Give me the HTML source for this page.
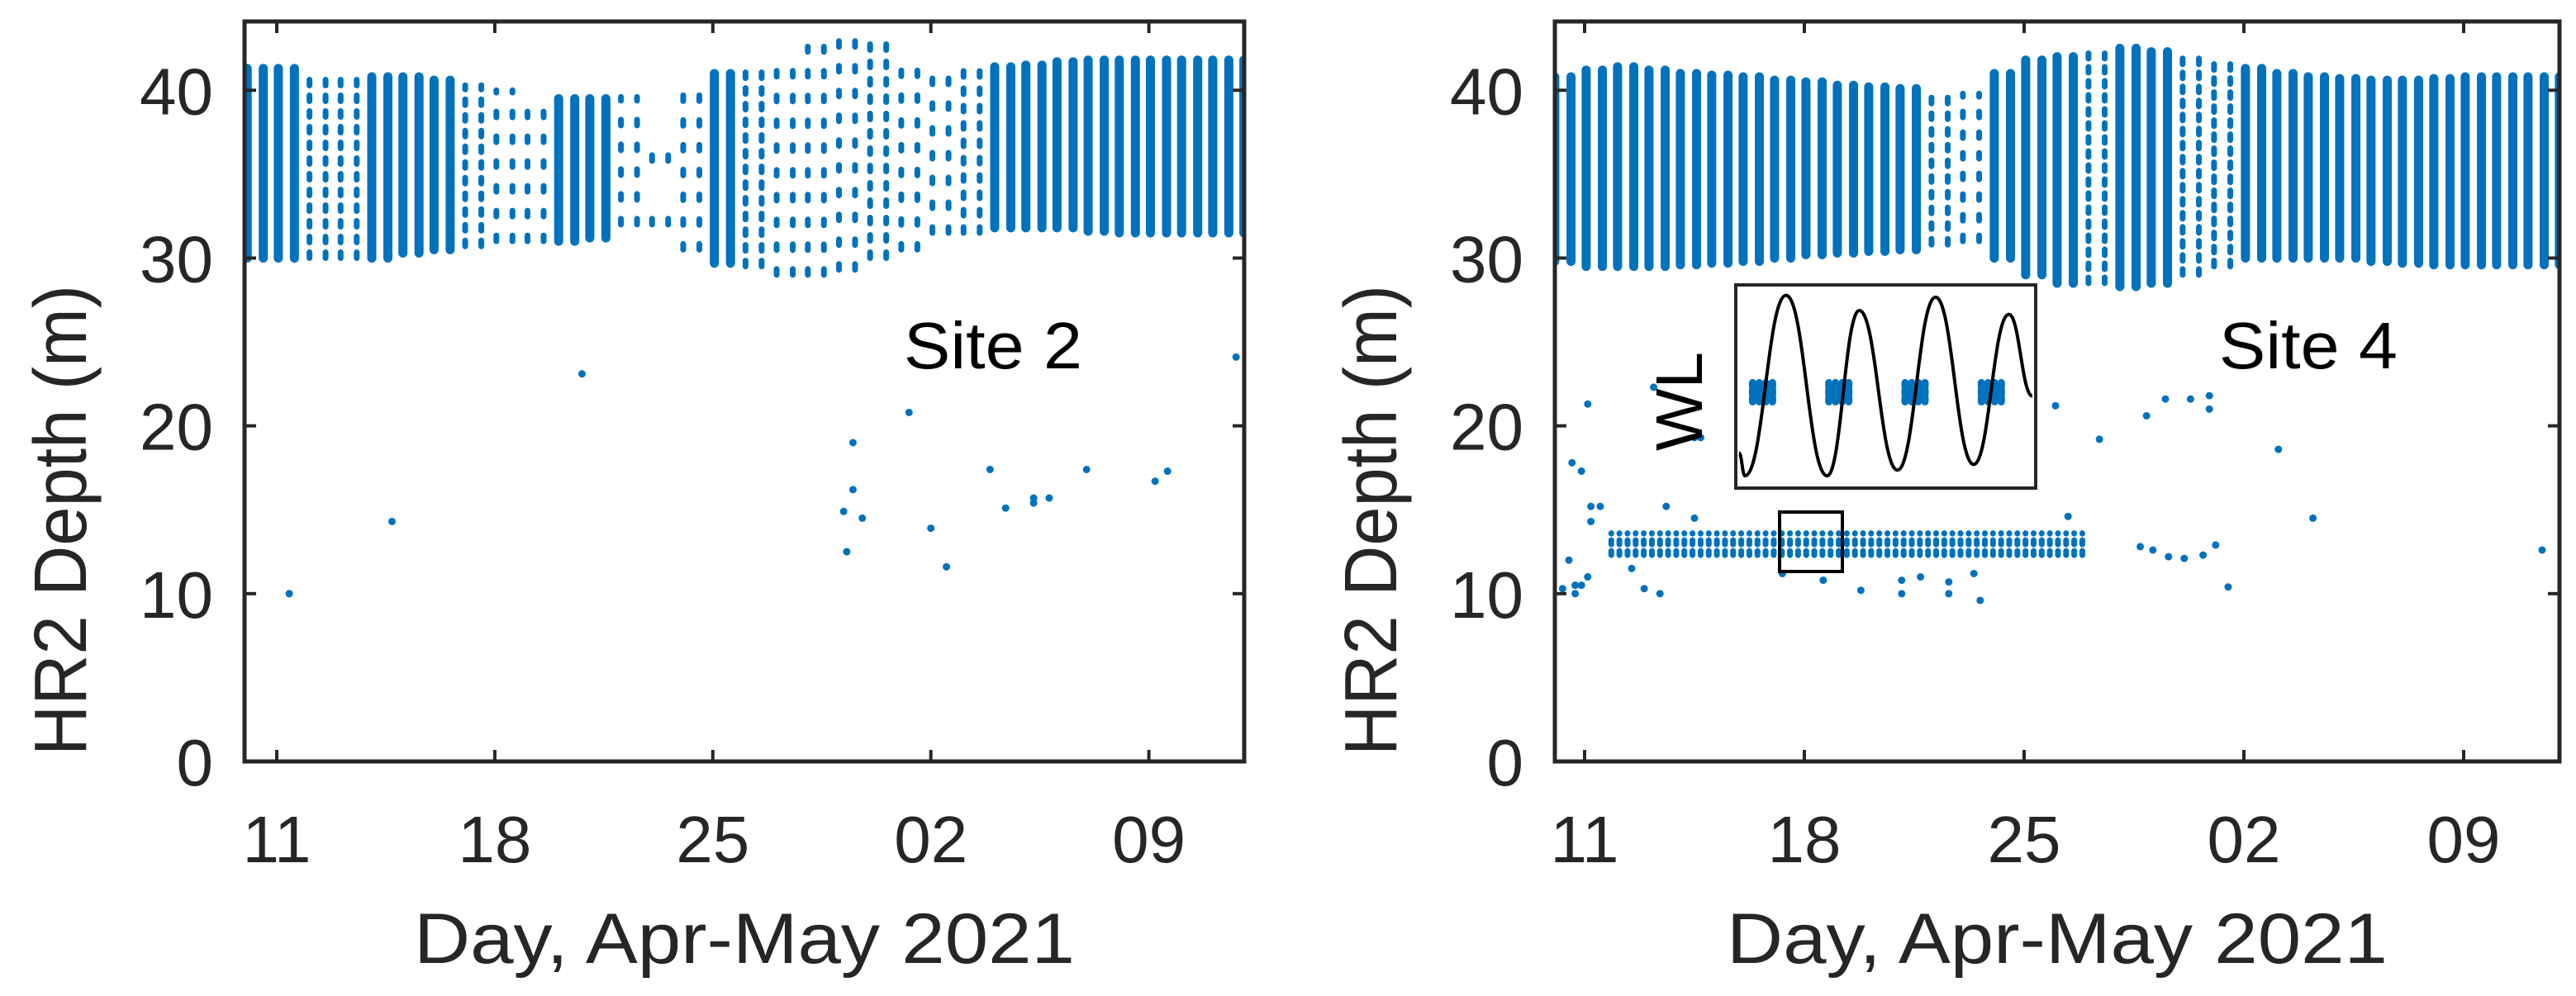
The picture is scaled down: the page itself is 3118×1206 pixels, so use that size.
<!DOCTYPE html>
<html><head><meta charset="utf-8"><style>
html,body{margin:0;padding:0;background:#fff}
svg{display:block;font-family:"Liberation Sans",sans-serif}
</style></head><body>
<svg id="fig" width="3118" height="1206" viewBox="0 0 3118 1206"></svg>
<script>
// ---- data (day index: 0 = Apr 11, 2021) ----
const xTickLabels = ["11","18","25","02","09"];
const xTickDays = [0,7,14,21,28];
const yTickValues = [0,10,20,30,40];
const envDays = [-1,0,1,2,3,4,5,6,7,8,9,10,11,12,13,14,15,16,17,18,19,20,21,22,23,24,25,26,27,28,29,30,31];
const leftMin = [30,30,30,30,30,30.3,30.5,30.7,31,31,31,31.2,32,32,30.5,29.7,29.5,29,29,29.3,30,30.5,31.5,31.5,31.8,31.8,31.8,31.6,31.5,31.5,31.5,31.5,31.5];
const leftMax = [41.3,41.3,41.2,41,40.8,40.8,40.6,40.3,40,39.7,39.5,39.5,39.6,38,40.8,41,41.3,42,42.6,43,42.8,42.2,41.5,41.4,41.4,41.5,41.7,41.8,41.8,41.8,41.8,41.8,41.8];
const leftDense = [1,1,0.6,0.6,1,1,1,0.6,0.3,0.3,1,1,0.3,0.1,0.3,1,0.6,0.3,0.3,0.3,0.5,0.3,0.3,0.5,1,1,1,1,1,1,1,1,1];
const rightMin = [29.8,29.5,29.5,29.5,29.6,29.7,29.8,30,30.2,30.3,30.4,30.5,30.8,31,30,29,28.5,28.5,28.3,28.5,29,29.5,30,30,30,30,29.8,29.7,29.6,29.6,29.6,29.6,29.6];
const rightMax = [40.8,41.2,41.4,41.2,41,40.9,40.8,40.6,40.5,40.3,40.2,40.1,40,39.8,41,41.8,42,42.2,42.5,42.3,42,41.7,41.3,41,40.8,40.7,40.6,40.6,40.7,40.8,40.8,40.8,40.8];
const rightDense = [1,1,1,1,1,1,1,1,1,1,1,1,0.6,0.4,1,1,1,0.7,1,1,0.7,0.7,1,1,1,1,1,1,1,1,1,1,1];
const leftOutDays = [0.4,3.7,9.8,18.3,18.2,18.5,18.5,18.8,20.3,21.0,21.5,22.9,23.4,24.3,24.3,24.8,26.0,28.2,28.6,30.8];
const leftOutVals = [10,14.3,23.1,12.5,14.9,19,16.2,14.5,20.8,13.9,11.6,17.4,15.1,15.4,15.7,15.7,17.4,16.7,17.3,24.1];
const rightOutDays = [-0.7,-0.3,-0.5,-0.4,-0.1,0.1,0.2,0.5,0.2,0.1,-0.1,-0.3,1.5,1.9,2.4,2.6,2.2,3.5,3.7,3.5,6.3,7.6,8.8,10.1,10.1,10.7,11.6,11.6,12.6,12.4,15.4,15.0,16.4,17.9,18.5,19.3,19.9,19.9,17.7,18.1,18.6,19.1,19.7,20.1,20.5,22.1,23.2,30.5];
const rightOutVals = [10.3,10.5,12,17.8,17.3,21.3,15.2,15.2,14.3,11,10.5,10,11.5,10.3,10,15.2,22.3,19.3,19.3,14.5,11.2,10.8,10.2,10,10.8,11,10.7,10,9.6,11.2,14.6,21.2,19.2,20.6,21.6,21.6,21.8,21,12.8,12.6,12.2,12.1,12.3,12.9,10.4,18.6,14.5,12.6];
const bandStart = 0.85, bandEnd = 15.9, bandLow = 12.3, bandHigh = 13.6;
const wlTimes = [0.0,0.02,0.16,0.30,0.41,0.54,0.67,0.80,0.92,1.0];
const wlVals  = [0.15,0.03,0.98,0.03,0.90,0.06,0.97,0.09,0.88,0.45];
const wlClusterTimes = [0.08,0.34,0.60,0.86];

const NS="http://www.w3.org/2000/svg";
const svg=document.getElementById('fig');
function mk(tag,attrs,parent){const e=document.createElementNS(NS,tag);for(const k in attrs)e.setAttribute(k,attrs[k]);(parent||svg).appendChild(e);return e;}
const BLUE="#0072BD", INK="#262626";

function panel(cfg){
  const g=mk('g',{});
  
  
  const xs=d=>cfg.x0+d*cfg.pxDay;
  const ys=v=>cfg.bottom-v*(cfg.bottom-cfg.top)/44.1;
  const clip=mk('clipPath',{id:cfg.name+'-clip'},g);
  mk('rect',{x:cfg.left,y:cfg.top,width:cfg.right-cfg.left,height:cfg.bottom-cfg.top},clip);
  const dg=mk('g',{'clip-path':'url(#'+cfg.name+'-clip)'},g);
  
  
  for(let i=0;i<envDays.length;i++){
    for(let k=0;k<2;k++){
      const d=envDays[i]+0.05+k*0.517;
      const dn=cfg.dense[i];
      const a={x1:xs(d),x2:xs(d),y1:ys(cfg.min[i]),y2:ys(cfg.max[i]),stroke:BLUE,'stroke-width':dn>=0.9?11:7,'stroke-linecap':'round'};
      if(dn<0.9){a['stroke-dasharray']='7 '+Math.round(7/dn);}
      const l=mk('line',a,dg);
      
      
    }
  }
  if(cfg.band){
    for(let d=bandStart; d<=bandEnd; d+=0.2587){
      const l=mk('line',{x1:xs(d),x2:xs(d),y1:ys(bandLow),y2:ys(bandHigh),stroke:BLUE,'stroke-width':7,'stroke-linecap':'round','stroke-dasharray':'5 8'},dg);
      
      
    }
  }
  for(let i=0;i<cfg.outD.length;i++){
    const c=mk('circle',{cx:xs(cfg.outD[i]),cy:ys(cfg.outV[i]),r:4.5,fill:BLUE},dg);
    
    
  }
  const box=mk('rect',{x:cfg.left,y:cfg.top,width:cfg.right-cfg.left,height:cfg.bottom-cfg.top,fill:'none',stroke:INK,'stroke-width':5},g);
  
  
  for(let i=0;i<xTickDays.length;i++){
    const x=xs(xTickDays[i]);
    mk('line',{x1:x,x2:x,y1:cfg.bottom,y2:cfg.bottom-14,stroke:INK,'stroke-width':4},g);
    mk('line',{x1:x,x2:x,y1:cfg.top,y2:cfg.top+14,stroke:INK,'stroke-width':4},g);
    const t=mk('text',{x:x,y:1044,'font-size':80,fill:INK,'text-anchor':'middle'},g);
    t.textContent=xTickLabels[i];
    
    
  }
  for(let i=0;i<yTickValues.length;i++){
    const y=ys(yTickValues[i]);
    mk('line',{x1:cfg.left,x2:cfg.left+14,y1:y,y2:y,stroke:INK,'stroke-width':4},g);
    mk('line',{x1:cfg.right,x2:cfg.right-14,y1:y,y2:y,stroke:INK,'stroke-width':4},g);
    const t=mk('text',{x:cfg.left-38,y:y+29,'font-size':80,fill:INK,'text-anchor':'end'},g);
    t.textContent=String(yTickValues[i]);
    
    
  }
  const xl=mk('text',{x:(cfg.left+cfg.right)/2,y:1166,'font-size':86,fill:INK,'text-anchor':'middle',textLength:800,lengthAdjust:'spacingAndGlyphs'},g);
  xl.textContent='Day, Apr-May 2021';
  
  
  const yl=mk('text',{x:0,y:0,'font-size':90,fill:INK,'text-anchor':'middle',textLength:570,lengthAdjust:'spacingAndGlyphs',transform:'translate('+cfg.ylx+',630) rotate(-90)'},g);
  yl.textContent='HR2 Depth (m)';
  
  
  const st=mk('text',{x:cfg.siteX,y:446,'font-size':80,fill:'#000',textLength:216,lengthAdjust:'spacingAndGlyphs'},g);
  st.textContent=cfg.site;
  
  
  return {g,xs,ys};
}

panel({name:'site2-panel',left:296,right:1506,top:26,bottom:922,x0:335,pxDay:37.7,min:leftMin,max:leftMax,dense:leftDense,outD:leftOutDays,outV:leftOutVals,band:false,ylx:104,siteX:1094,site:'Site 2'});
panel({name:'site4-panel',left:1882,right:3098,top:26,bottom:922,x0:1918,pxDay:38.0,min:rightMin,max:rightMax,dense:rightDense,outD:rightOutDays,outV:rightOutVals,band:true,ylx:1690,siteX:2686,site:'Site 4'});

const zb=mk('rect',{x:2154,y:620,width:76,height:72,fill:'none',stroke:'#000','stroke-width':4});



const ins=mk('g',{});


const IL=2101,IR=2464,IT=345,IB=591;
mk('rect',{x:IL,y:IT,width:IR-IL,height:IB-IT,fill:'#fff',stroke:INK,'stroke-width':4},ins);
const ix=t=>IL+4+t*(IR-IL-8), iy=v=>IB-8-v*(IB-IT-16);
for(let i=0;i<wlClusterTimes.length;i++){
  const cx=ix(wlClusterTimes[i]);
  for(let j=0;j<4;j++){
    const l=mk('line',{x1:cx-12+j*8,x2:cx-12+j*8,y1:iy(0.52),y2:iy(0.42),stroke:BLUE,'stroke-width':9,'stroke-linecap':'round','stroke-dasharray':'5 4'},ins);
    
    
  }
}
let d='M'+ix(wlTimes[0])+','+iy(wlVals[0]);
for(let i=1;i<wlTimes.length;i++){
  const xa=ix(wlTimes[i-1]),xb=ix(wlTimes[i]),ya=iy(wlVals[i-1]),yb=iy(wlVals[i]);
  const h=(xb-xa)*0.45;
  d+=' C'+(xa+h)+','+ya+' '+(xb-h)+','+yb+' '+xb+','+yb;
}
const wl=mk('path',{d:d,fill:'none',stroke:'#000','stroke-width':4},ins);


const wlt=mk('text',{x:0,y:0,'font-size':80,fill:'#000','text-anchor':'middle',transform:'translate(2060,486) rotate(-90)'},ins);
wlt.textContent='WL';


</script>
</body></html>
